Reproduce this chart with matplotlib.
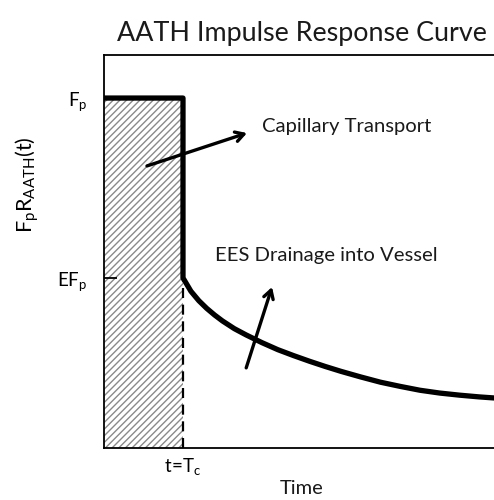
import matplotlib
matplotlib.use("Agg")
import matplotlib.pyplot as plt
import numpy as np

plt.rcParams['font.family'] = ['Lato', 'DejaVu Sans']
plt.rcParams['mathtext.fontset'] = 'custom'
plt.rcParams['mathtext.rm'] = 'Lato'
plt.rcParams['mathtext.it'] = 'Lato'
plt.rcParams['hatch.linewidth'] = 1.0
plt.rcParams['hatch.color'] = '#8a8a8a'

# Data (x in units of Tc, y in units of Fp)
Tc = 1.0
Fp = 1.0
E = 0.486
decay_t = [1.0, 1.1, 1.2, 1.3, 1.4, 1.5, 1.65, 1.8, 2.0, 2.2, 2.4, 2.6, 2.8, 3.0,
           3.25, 3.5, 3.75, 4.0, 4.25, 4.5, 4.75, 5.0]
decay_y = [0.486, 0.448, 0.421, 0.399, 0.380, 0.363, 0.341, 0.323, 0.301, 0.281, 0.264,
           0.248, 0.233, 0.219, 0.203, 0.188, 0.176, 0.165, 0.157, 0.151, 0.146, 0.142]
ytick_labels = [r'$\mathrm{EF_p}$', r'$\mathrm{F_p}$']
xtick_labels = [r'$\mathrm{t\!=\!T_c}$']
title = 'AATH Impulse Response Curve'
ann1 = 'Capillary Transport'
ann2 = 'EES Drainage into Vessel'
arrow1 = [(0.544, 0.806), (1.81, 0.90)]
arrow2 = [(1.80, 0.229), (2.127, 0.46)]

fig = plt.figure(figsize=(4.94, 5.0), dpi=100)
ax = fig.add_axes([104/494, 52/500, 395/494, 393/500])
ax.set_xlim(0, 5.0)
ax.set_ylim(0, 1.123)

# hatched area
ax.fill_between([0, Tc], [Fp, Fp], [0, 0], facecolor='white', hatch='/////', edgecolor='#8a8a8a', linewidth=0)

# dashed line
ax.plot([Tc, Tc], [0, E * Fp], color='black', lw=1.6, ls=(0, (4.5, 3)))

# main curve
xs = [0, Tc, Tc] + decay_t
ys = [Fp, Fp, E * Fp] + decay_y
ax.plot(xs, ys, color='black', lw=3.8, solid_joinstyle='round', solid_capstyle='butt')

for (t0, t1) in [arrow1, arrow2]:
    ax.annotate('', xy=t1, xytext=t0,
                arrowprops=dict(arrowstyle='->,head_length=0.6,head_width=0.35', lw=2.4, color='black',
                                shrinkA=0, shrinkB=0))

ax.text(2.0, 0.92, ann1, fontsize=14.6, va='center', ha='left', color='#1a1a1a')
ax.text(1.405, 0.551, ann2, fontsize=14.6, va='center', ha='left', color='#1a1a1a')

ax.spines['right'].set_visible(False)
for s in ['left', 'top', 'bottom']:
    ax.spines[s].set_linewidth(1.3)
ax.set_yticks([E * Fp, Fp])
ax.set_yticklabels(ytick_labels, fontsize=13.5)
ax.set_xticks([Tc])
ax.set_xticklabels(xtick_labels, fontsize=13.5)
ax.tick_params(axis='y', direction='in', length=9, width=1.3, pad=12)
ax.tick_params(axis='x', direction='in', length=6, width=1.3, pad=6)
ax.set_xlabel('Time', fontsize=14.5, labelpad=2, color='#1a1a1a')
ax.set_ylabel(r'$\mathrm{F_pR_{AATH}(t)}$', fontsize=15.5)
ax.yaxis.set_label_coords(-0.16, 0.67)
fig.text(0.611, 0.934, title, fontsize=19.4, ha='center', va='center', color='#1a1a1a')

fig.savefig('out.png', dpi=100)
